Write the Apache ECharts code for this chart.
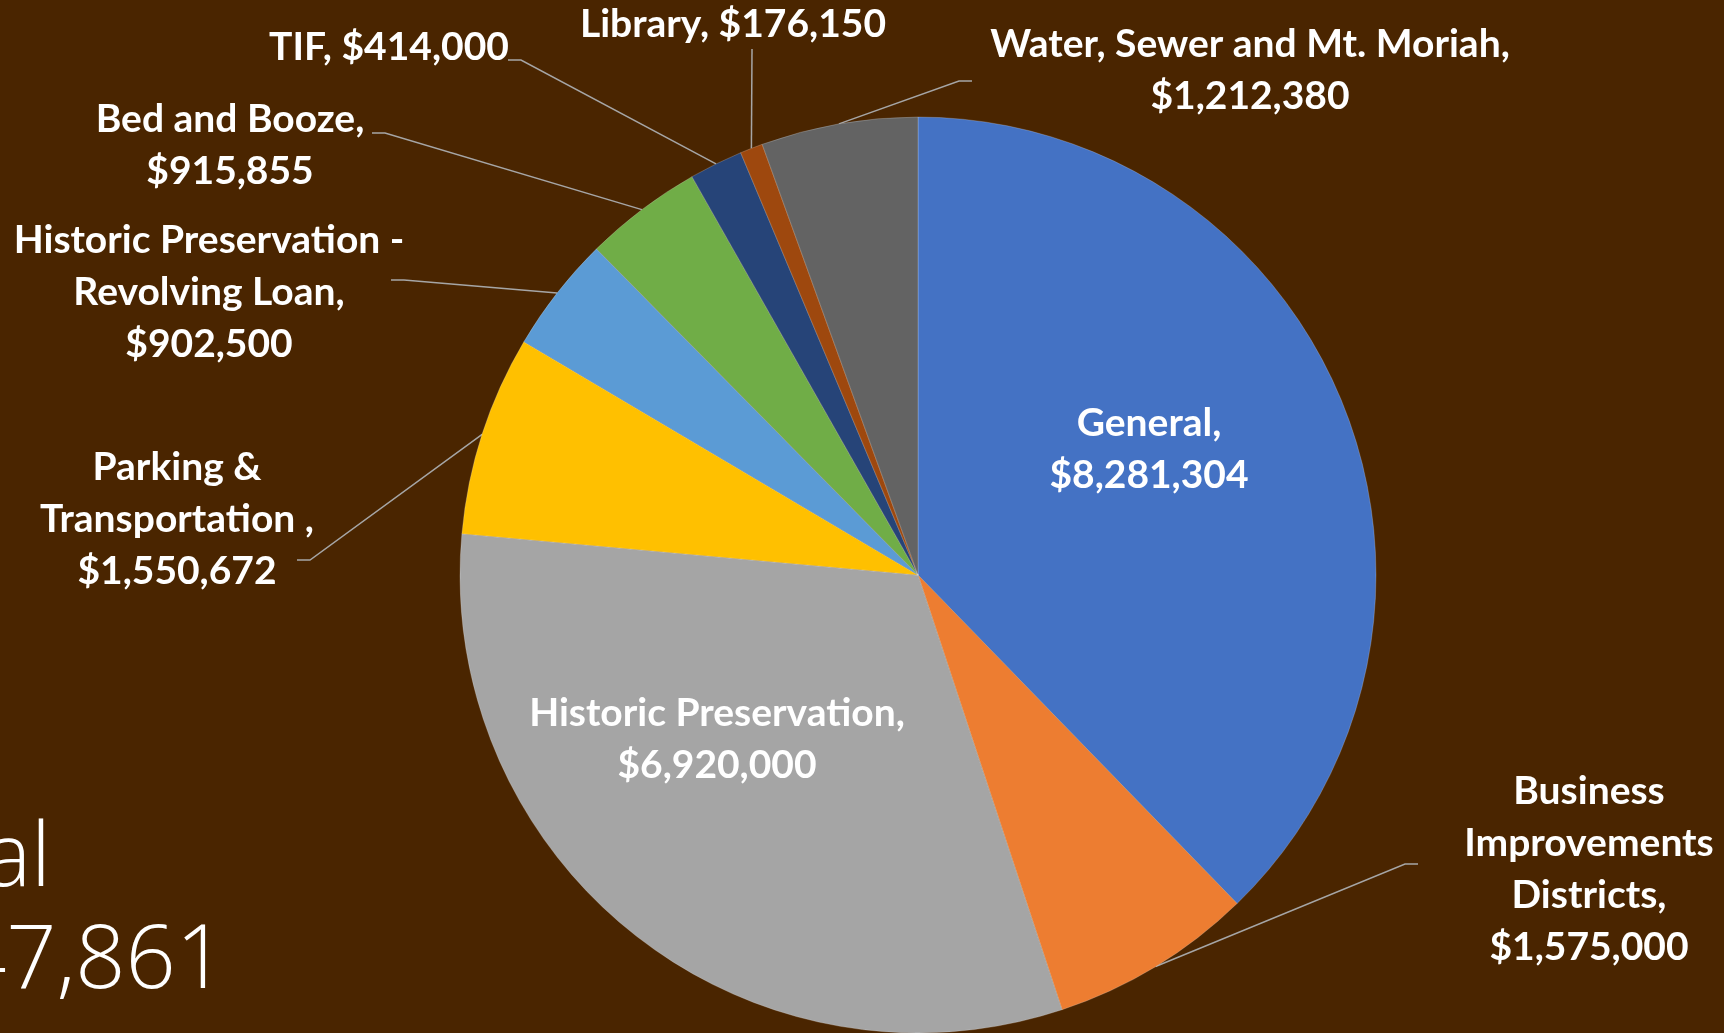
<!DOCTYPE html>
<html>
<head>
<meta charset="utf-8">
<script src="https://cdn.jsdelivr.net/npm/echarts@6/dist/echarts.min.js"></script>
<style>
  html, body { margin: 0; padding: 0; background: #4A2500; }
  #chart { width: 1724px; height: 1033px; }
</style>
</head>
<body>
<div id="chart"></div>
<script>
// fund budgets, clockwise from 12 o'clock
const categories = ['General', 'Business Improvements Districts', 'Historic Preservation', 'Parking & Transportation ',
  'Historic Preservation - Revolving Loan', 'Bed and Booze', 'TIF', 'Library', 'Water, Sewer and Mt. Moriah']
const amounts = [8281304, 1575000, 6920000, 1550672, 902500, 915855, 414000, 176150, 1212380]
// how the label names wrap in the original
const wrappedNames = ['General,', 'Business\nImprovements\nDistricts,', 'Historic Preservation,', 'Parking &\nTransportation ,',
  'Historic Preservation -\nRevolving Loan,', 'Bed and Booze,', 'TIF,', 'Library,', 'Water, Sewer and Mt. Moriah,']
const oneLine = [6, 7]
const insideLabels = [0, 2]

const colors = ['#4472C4', '#ED7D31', '#A5A5A5', '#FFC000', '#5B9BD5', '#70AD47', '#264478', '#9E480E', '#636363']

// label centres and leader-line ends (px)
const labelPos = [[1149, 449], [1589, 869], [717, 739], [177, 519], [209, 292], [230, 145], [389, 47], [733, 24], [1250, 70]]
const leaderEnd = [null, [1418, 864], null, [297, 560], [391, 280], [372, 133], [508, 60], [752, 49], [972, 81]]

const fmt = v => '$' + v.toLocaleString('en-US')
const total = amounts.reduce((a, b) => a + b, 0)

const chart = echarts.init(document.getElementById('chart'), null, { renderer: 'canvas' })

chart.setOption({
  backgroundColor: '#4A2500',
  animation: false,
  graphic: [
    {
      type: 'text', x: 51, y: 861,
      style: { text: 'Total', fill: '#fff', font: '300 88px "Open Sans"', align: 'right', verticalAlign: 'middle' },
    },
    {
      type: 'text', x: 226, y: 963,
      style: { text: fmt(total), fill: '#fff', font: '300 88px "Open Sans"', align: 'right', verticalAlign: 'middle' },
    },
  ],
  series: [{
    type: 'pie',
    center: [918, 575],
    radius: 458,
    startAngle: 90,
    clockwise: true,
    silent: true,
    avoidLabelOverlap: false,
    itemStyle: { borderColor: 'rgba(255,255,255,0.35)', borderWidth: 0.6 },
    label: {
      show: true,
      position: 'outside',
      color: '#fff',
      fontFamily: 'Lato',
      fontWeight: 700,
      fontSize: 39,
      lineHeight: 52,
      formatter: p => wrappedNames[p.dataIndex] + (oneLine.includes(p.dataIndex) ? ' ' : '\n') + fmt(amounts[p.dataIndex]),
    },
    labelLine: { show: true, length: 20, length2: 10, lineStyle: { color: '#A6A6A6', width: 1.5 } },
    labelLayout: params => {
      const i = params.dataIndex
      const out = { x: labelPos[i][0], y: labelPos[i][1], align: 'center', verticalAlign: 'middle' }
      const end = leaderEnd[i]
      if (end && params.labelLinePoints) {
        const start = params.labelLinePoints[0]
        let elbow = end
        if (Math.abs(start[0] - end[0]) > 3) elbow = [end[0] + (start[0] < end[0] ? -13 : 13), end[1]]
        out.labelLinePoints = [start, elbow, end]
      }
      return out
    },
    data: categories.map((name, i) => ({
      name,
      value: amounts[i],
      itemStyle: { color: colors[i] },
      label: insideLabels.includes(i) ? { position: 'inside' } : undefined,
      labelLine: insideLabels.includes(i) ? { show: false } : undefined,
    })),
  }],
})
</script>
</body>
</html>
